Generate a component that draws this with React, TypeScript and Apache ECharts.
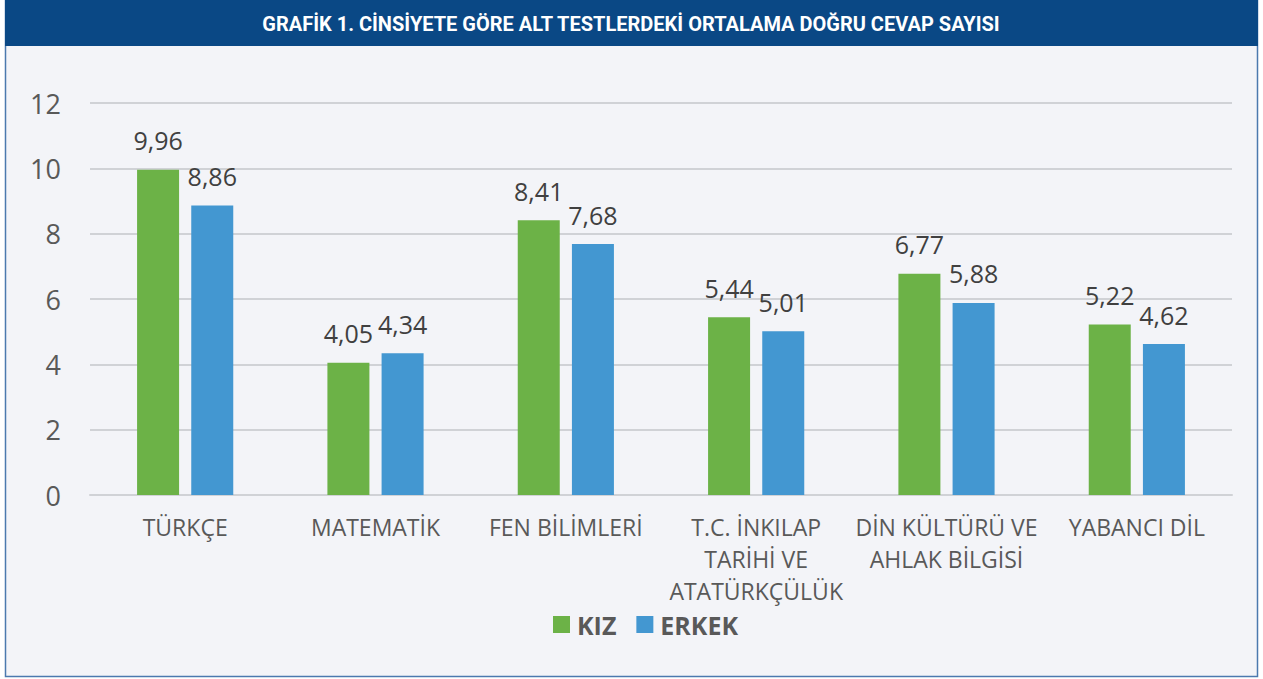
import React, { useEffect, useRef } from "react";
import * as echarts from "echarts";

const categories = [
  "TÜRKÇE",
  "MATEMATİK",
  "FEN BİLİMLERİ",
  "T.C. İNKILAP\nTARİHİ VE\nATATÜRKÇÜLÜK",
  "DİN KÜLTÜRÜ VE\nAHLAK BİLGİSİ",
  "YABANCI DİL",
];
const kizValues = [9.96, 4.05, 8.41, 5.44, 6.77, 5.22];
const erkekValues = [8.86, 4.34, 7.68, 5.01, 5.88, 4.62];
const seriesNames = ["KIZ", "ERKEK"];
const title = "GRAFİK 1. CİNSİYETE GÖRE ALT TESTLERDEKİ ORTALAMA DOĞRU CEVAP SAYISI";

const W = 1263;
const H = 679;
const FONT = "'Open Sans', 'Noto Sans', sans-serif";

export default function App() {
  const ref = useRef<HTMLDivElement>(null);
  useEffect(() => {
    document.body.style.margin = "0";
    const chart = echarts.init(ref.current!, null, { renderer: "svg" });
    const fmt = (p: any) => String(p.value.toFixed(2)).replace(".", ",");
    chart.setOption({
      animation: false,
      backgroundColor: "#ffffff",
      textStyle: { fontFamily: FONT },
      graphic: [
        {
          type: "rect",
          z: -10,
          silent: true,
          shape: { x: 5.5, y: 0.5, width: 1252, height: 676 },
          style: { fill: "#f3f4f8", stroke: "#4b79ae", lineWidth: 1.5 },
        },
        {
          type: "rect",
          z: -9,
          silent: true,
          shape: { x: 5, y: 0, width: 1253, height: 46 },
          style: { fill: "#0a4885" },
        },
        {
          type: "text",
          z: 10,
          silent: true,
          x: 631,
          y: 24,
          style: {
            text: title,
            fill: "#ffffff",
            font: "bold 20px 'Liberation Sans Narrow', 'Roboto', sans-serif",
            align: "center",
            verticalAlign: "middle",
          },
        },
      ],
      legend: {
        data: seriesNames,
        left: 548,
        top: 607,
        itemWidth: 17,
        itemHeight: 17,
        itemGap: 20,
        icon: "rect",
        textStyle: {
          fontFamily: FONT,
          fontWeight: "bold",
          fontSize: 25,
          color: "#595959",
          padding: [0, 0, 0, 2],
        },
      },
      grid: { left: 90, right: 31, top: 103, bottom: 184, containLabel: false },
      xAxis: {
        type: "category",
        data: categories,
        axisLine: { show: true, lineStyle: { color: "#d0d2d6", width: 2 } },
        axisTick: { show: false },
        axisLabel: {
          interval: 0,
          color: "#595959",
          fontSize: 23,
          lineHeight: 32,
          margin: 16,
          fontFamily: FONT,
        },
      },
      yAxis: {
        type: "value",
        min: 0,
        max: 12,
        interval: 2,
        axisLine: { show: false },
        axisTick: { show: false },
        splitLine: { lineStyle: { color: "#d0d2d6", width: 2 } },
        axisLabel: { color: "#595959", fontSize: 27, margin: 29, fontFamily: FONT },
      },
      series: [
        {
          name: seriesNames[0],
          type: "bar",
          data: kizValues,
          barWidth: 42,
          barGap: "29%",
          itemStyle: { color: "#6cb247" },
          label: {
            show: true,
            position: "top",
            distance: 17,
            formatter: fmt,
            color: "#404040",
            fontSize: 25,
            fontFamily: FONT,
          },
        },
        {
          name: seriesNames[1],
          type: "bar",
          data: erkekValues,
          barWidth: 42,
          itemStyle: { color: "#4397d1" },
          label: {
            show: true,
            position: "top",
            distance: 17,
            formatter: fmt,
            color: "#404040",
            fontSize: 25,
            fontFamily: FONT,
          },
        },
      ],
    });
    return () => chart.dispose();
  }, []);
  return (
    <div
      ref={ref}
      style={{ position: "absolute", left: 0, top: 0, width: W, height: H }}
    />
  );
}
